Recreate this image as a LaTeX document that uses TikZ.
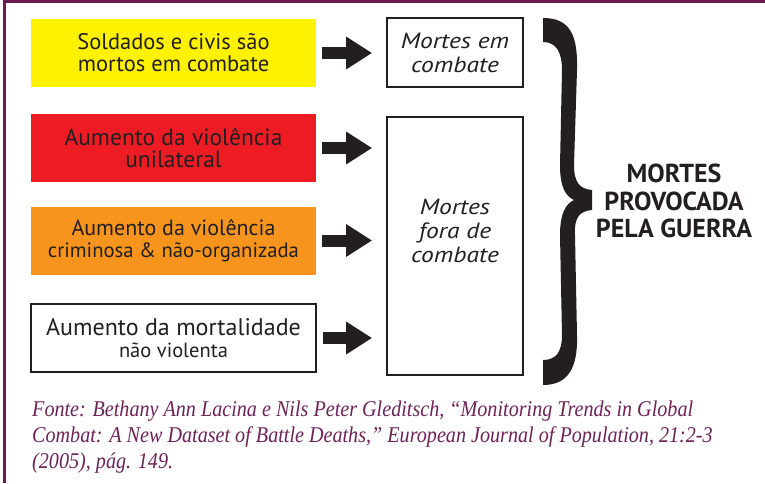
\documentclass[tikz,border=0pt]{standalone}
\usepackage{fontspec}
\usepackage{tikz}
\usetikzlibrary{positioning}
\usetikzlibrary{arrows.meta}
\newfontfamily\boxfont{PT Sans}
\newfontfamily\effectfont{PT Sans}[FakeStretch=1.16]
\newfontfamily\notefont{Liberation Serif}[FakeStretch=0.895]
\definecolor{warpurple}{HTML}{6A1B4D}
\definecolor{notepurple}{HTML}{6E2358}
\definecolor{inkblack}{HTML}{231F20}
\definecolor{causeyellow}{HTML}{FFF200}
\definecolor{causered}{HTML}{ED1C24}
\definecolor{causeorange}{HTML}{F7941D}
\newcommand{\fs}[2]{\fontsize{#1}{#2}\selectfont}
\tikzset {
  % coloured cause boxes on the left
  cause/.style = {minimum width=285pt, minimum height=68pt, inner sep=0pt,
    align=center, text=inkblack, font=\boxfont\fs{22.5}{22}},
  % outlined boxes in the middle
  effect/.style = {draw=inkblack, line width=1.8pt, minimum width=136pt,
    inner sep=0pt, align=center, text=inkblack,
    font=\effectfont\itshape\fs{22}{24}},
  % thick block arrows
  push/.style = {inkblack, line width=12pt,
    -{Triangle[length=26pt, width=31pt]}, shorten <=6pt, shorten >=14pt},
  total/.style = {align=center, text=inkblack,
    font=\boxfont\bfseries\fs{26}{27.5}},
}
\begin{document}
\begin{tikzpicture}[x=1pt, y=-1pt]
  \useasboundingbox (0, 0) rectangle (765, 483);
  \fill[white] (0, 0) rectangle (765, 483);

  % frame
  \draw[warpurple, line width=3pt] (4.5, 483) -- (4.5, 1.5) -- (765, 1.5);

  \node[cause, fill=causeyellow] (kill) at (173.5, 53)
    {Soldados e civis são\\mortos em combate};
  \node[cause, fill=causered, font=\boxfont\fs{23.5}{22}] (unil) at (173.5, 148)
    {Aumento da violência\\unilateral};
  \node[cause, fill=causeorange] (crim) at (173.5, 240.5)
    {{\fs{22}{22}Aumento da violência}\\{\fs{20.7}{22}criminosa \& não-organizada}};
  \node[cause, draw=inkblack, line width=2pt, fill=white] (mort) at (173.5, 338)
    {{\fs{24}{22}Aumento da mortalidade}\\{\fs{20.5}{22}não violenta}};

  \node[effect, minimum height=69pt] (comb) at (455, 52.5) {Mortes em\\combate};
  \node[effect, minimum height=258pt] (fora) at (455, 246) {};
  \node[effect, draw=none] (foratext) at (455, 231) {Mortes\\fora de\\combate};

  \draw[push] (kill.east) -- (kill.east -| comb.west);
  \draw[push] (unil.east) -- (unil.east -| fora.west);
  \draw[push] (crim.east) -- (crim.east -| fora.west);
  \draw[push] (mort.east) -- (mort.east -| fora.west);

  % brace
  \fill[inkblack] (543, 18) .. controls (570, 18) and (578, 35) .. (577, 70)
    -- (574, 165) .. controls (574, 183) and (580, 189) .. (592, 190)
    -- (592, 210) .. controls (580, 211) and (574, 217) .. (575, 235)
    -- (577, 335) .. controls (578, 368) and (568, 385) .. (543, 385)
    -- (543, 360) .. controls (556, 360) and (562, 352) .. (562, 335)
    -- (560, 235) .. controls (560, 215) and (565, 204) .. (574, 200)
    .. controls (565, 196) and (560, 186) .. (560, 165)
    -- (562, 70) .. controls (562, 52) and (556, 42) .. (543, 42) -- cycle;

  \node[total] (war) at (674, 201) {MORTES\\PROVOCADA\\PELA GUERRA};

  \node[anchor=north west, align=left, inner sep=0pt, text=notepurple,
    font=\notefont\itshape\fs{22.5}{26}] (src) at (32, 401)
    {Fonte: Bethany Ann Lacina e Nils Peter Gleditsch, “Monitoring Trends in Global\\
     Combat: A New Dataset of Battle Deaths,” European Journal of Population, 21:2-3\\
     (2005), pág. 149.};
\end{tikzpicture}
\end{document}
